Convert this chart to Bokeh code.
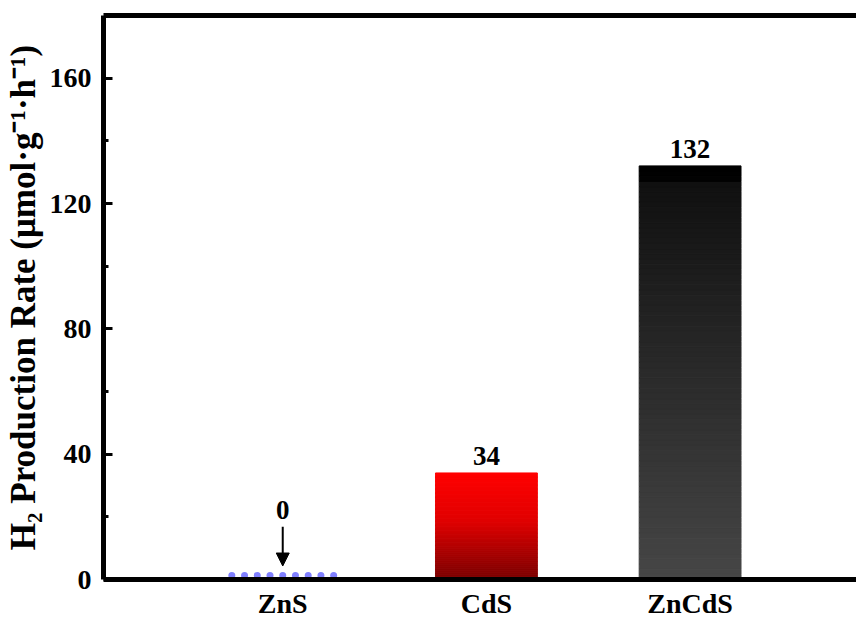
from bokeh.plotting import figure
from bokeh.models import (FixedTicker, LinearAxis, Range1d, Arrow, NormalHead,
                          ColumnDataSource)
from bokeh.core.properties import value
from bokeh.embed import file_html
from bokeh.resources import INLINE
import numpy as np

# ---- data ----
categories = ["ZnS", "CdS", "ZnCdS"]
rates = [0, 34, 132]
value_labels = ["0", "34", "132"]
y_ticks = [0, 40, 80, 120, 160]
y_minor = [20, 60, 100, 140]
y_label = "H\u2082 Production Rate (\u03bcmol\u00b7g\u207b\u00b9\u00b7h\u207b\u00b9)"

FONT = "Liberation Serif"
xs = [1, 2, 3]
BAR_W = 0.5

# gradient stops (bottom -> top) for each bar
grad_stops = {
    "CdS": [(0.0, (0x78, 0x00, 0x00)), (0.55, (0xe0, 0x00, 0x00)),
            (1.0, (0xff, 0x00, 0x00))],
    "ZnCdS": [(0.0, (0x46, 0x46, 0x46)), (0.96, (0x10, 0x10, 0x10)),
              (0.965, (0x02, 0x02, 0x02)), (1.0, (0x00, 0x00, 0x00))],
}

p = figure(width=856, height=621, output_backend="svg", toolbar_location=None,
           x_range=Range1d(0.12, 3.817), y_range=Range1d(0, 180),
           min_border_left=100, min_border_right=0, min_border_top=15,
           min_border_bottom=41, background_fill_color="white",
           border_fill_color="white")
p.outline_line_color = None
p.grid.visible = False

# y axis
ya = p.yaxis[0]
ya.ticker = FixedTicker(ticks=y_ticks, minor_ticks=y_minor)
ya.axis_line_width = 5
ya.major_tick_in = 9
ya.major_tick_out = 0
ya.minor_tick_in = 5
ya.minor_tick_out = 0
ya.major_tick_line_width = 3
ya.minor_tick_line_width = 3
ya.major_label_text_font = FONT
ya.major_label_text_font_style = "bold"
ya.major_label_text_font_size = "28px"
ya.major_label_text_color = "black"
ya.major_label_standoff = 12
ya.axis_label = y_label
ya.axis_label_text_font = FONT
ya.axis_label_text_font_style = "bold"
ya.axis_label_text_font_size = "35px"
ya.axis_label_text_color = "black"
ya.axis_label_standoff = 4

# x axis
xa = p.xaxis[0]
xa.ticker = FixedTicker(ticks=xs)
xa.major_label_overrides = {x: c for x, c in zip(xs, categories)}
xa.axis_line_width = 5
xa.major_tick_line_color = None
xa.minor_tick_line_color = None
xa.major_tick_in = 0
xa.major_tick_out = 0
xa.major_label_text_font = FONT
xa.major_label_text_font_style = "bold"
xa.major_label_text_font_size = "28px"
xa.major_label_text_color = "black"
xa.major_label_standoff = 8

# top border
top = LinearAxis(ticker=FixedTicker(ticks=[]), axis_line_width=5,
                 major_tick_line_color=None, minor_tick_line_color=None,
                 major_label_text_font_size="0px")
p.add_layout(top, "above")


def interp(stops, t):
    for (t0, c0), (t1, c1) in zip(stops[:-1], stops[1:]):
        if t0 <= t <= t1:
            f = 0 if t1 == t0 else (t - t0) / (t1 - t0)
            return "#%02x%02x%02x" % tuple(int(round(a + (b - a) * f)) for a, b in zip(c0, c1))
    return "#%02x%02x%02x" % stops[-1][1]


# gradient bars, sliced
N = 80
sx, sb, st, sc = [], [], [], []
for x, cat, r in zip(xs, categories, rates):
    if cat not in grad_stops or r <= 0:
        continue
    for i in range(N):
        t = (i + 0.5) / N
        sx.append(x)
        sb.append(r * i / N)
        st.append(r * (i + 1) / N)
        sc.append(interp(grad_stops[cat], t))
p.vbar(x=sx, bottom=sb, top=st, width=BAR_W, fill_color=sc, line_color=sc,
       line_width=1)

# ZnS zero bar drawn as dotted outline
zx = xs[0]
dots_x = list(np.linspace(zx - BAR_W / 2, zx + BAR_W / 2, 9))
dots_y = [rates[0] + 1.3] * len(dots_x)
p.scatter(dots_x, dots_y, size=7, color="#8080ff", line_color=None)

# arrow pointing at ZnS
arrow_top = rates[0] + 16.8
arrow_bot = rates[0] + 4.3
p.add_layout(Arrow(end=NormalHead(size=13, fill_color="black", line_color="black"),
                   x_start=zx, y_start=arrow_top, x_end=zx, y_end=arrow_bot,
                   line_width=2, line_color="black"))

# value labels
lbl_y = [arrow_top if r == 0 else r for r in rates]
src = ColumnDataSource(dict(x=xs, y=lbl_y, t=value_labels))
p.text(x="x", y="y", text="t", source=src, text_align="center",
       text_baseline="bottom", y_offset=-8, text_font=value(FONT),
       text_font_style="bold", text_font_size="27px", text_color="black")

open("out.html", "w").write(file_html(p, INLINE))
